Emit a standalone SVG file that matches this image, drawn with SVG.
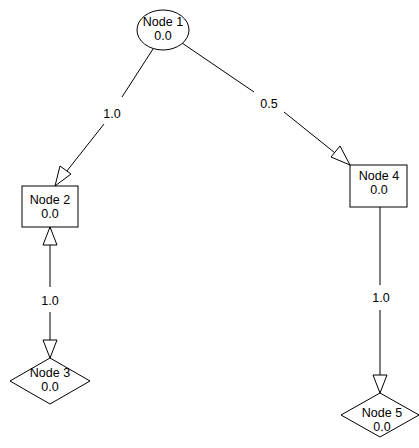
<svg xmlns="http://www.w3.org/2000/svg" width="419" height="448" viewBox="0 0 419 448">
  <style>
    .shape { fill: #ffffff; stroke: #000000; stroke-width: 1; }
    .edge { stroke: #000000; stroke-width: 1; fill: none; }
    .head { fill: #ffffff; stroke: #000000; stroke-width: 1; }
    text { font-family: "Liberation Sans", Arial, sans-serif; font-size: 12.5px; fill: #000000; text-anchor: middle; }
  </style>
  <rect width="419" height="448" fill="#ffffff"/>

  <!-- connectors -->
  <g id="connectors">
    <!-- Node 1 -> Node 2 -->
    <line class="edge" x1="153" y1="49" x2="122" y2="97"/>
    <line class="edge" x1="104" y1="124" x2="55" y2="186"/>
    <polygon class="head" points="55,186 60,166 71,174"/>
    <text x="112" y="118">1.0</text>

    <!-- Node 1 -> Node 4 -->
    <line class="edge" x1="182" y1="43" x2="254" y2="92"/>
    <line class="edge" x1="284" y1="112" x2="350" y2="165"/>
    <polygon class="head" points="350,165 331,157 340,146"/>
    <text x="269" y="108">0.5</text>

    <!-- Node 2 <-> Node 3 -->
    <line class="edge" x1="50" y1="227" x2="50" y2="287"/>
    <line class="edge" x1="50" y1="312" x2="50" y2="358"/>
    <polygon class="head" points="50,227 43,245 57,245"/>
    <polygon class="head" points="50,358 43,340 57,340"/>
    <text x="50" y="305">1.0</text>

    <!-- Node 4 -> Node 5 -->
    <line class="edge" x1="380" y1="207" x2="380" y2="285"/>
    <line class="edge" x1="380" y1="310" x2="380" y2="393"/>
    <polygon class="head" points="380,393 373,375 387,375"/>
    <text x="381" y="302">1.0</text>
  </g>

  <g id="node1">
    <ellipse class="shape" cx="163" cy="30" rx="26" ry="20"/>
    <text x="163" y="26">Node 1</text>
    <text x="163" y="40">0.0</text>
  </g>

  <g id="node2">
    <rect class="shape" x="22" y="186" width="56" height="41"/>
    <text x="50" y="204">Node 2</text>
    <text x="50" y="218">0.0</text>
  </g>

  <g id="node4">
    <rect class="shape" x="350" y="165" width="57" height="42"/>
    <text x="379" y="180">Node 4</text>
    <text x="379" y="194">0.0</text>
  </g>

  <g id="node3">
    <polygon class="shape" points="50,358 90,381 50,404 10,381"/>
    <text x="50" y="377">Node 3</text>
    <text x="50" y="391">0.0</text>
  </g>

  <g id="node5">
    <polygon class="shape" points="380,393 419,415 380,437 341,415"/>
    <text x="382" y="417">Node 5</text>
    <text x="382" y="431">0.0</text>
  </g>
</svg>
